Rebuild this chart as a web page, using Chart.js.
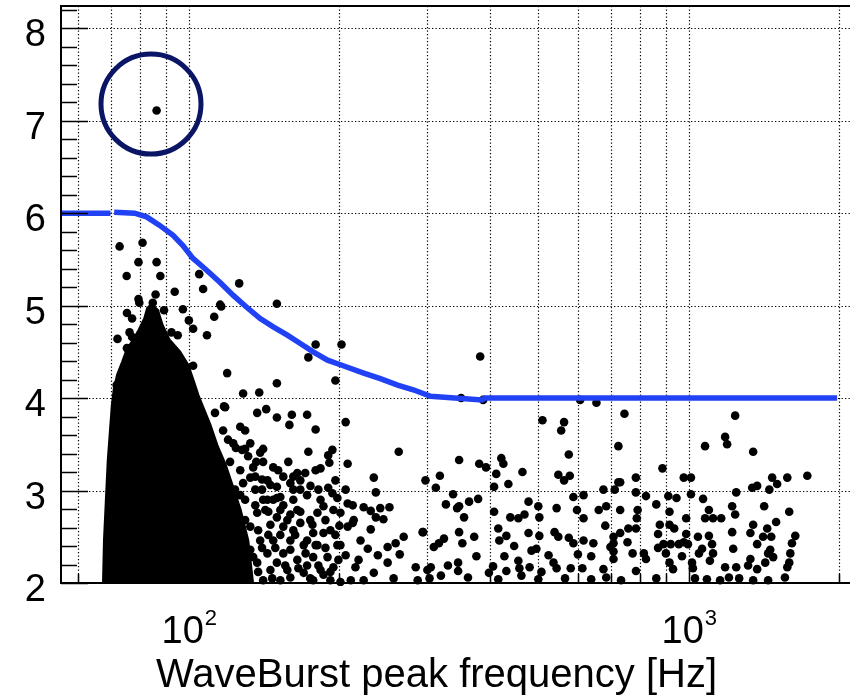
<!DOCTYPE html>
<html>
<head>
<meta charset="utf-8">
<script src="https://cdn.jsdelivr.net/npm/chart.js@4.4.0/dist/chart.umd.min.js"></script>
<style>
  html, body { margin: 0; padding: 0; overflow: hidden; background: #fff; }
  canvas { display: block; }
</style>
</head>
<body>
<canvas id="chart" width="880" height="696"></canvas>
<script>
// Axis ticks
const xTicks = [60, 70, 80, 90, 100, 200, 300, 400, 500, 600, 700, 800, 900, 1000, 2000];
const xLabels = { 100: '2', 1000: '3' }; // exponents of 10
const yTicks = [2, 3, 4, 5, 6, 7, 8];
const xTitle = 'WaveBurst peak frequency [Hz]';

// Upper edge of the dense core of events (freq Hz, rho)
const coreEdge = [
  [67.5, 2.0], [67.8, 2.46], [68.4, 2.90], [69, 3.33], [69.7, 3.65], [70.3, 3.92], [70.9, 4.09],
  [72, 4.25], [73.7, 4.39], [75.2, 4.52], [77.5, 4.63], [79.6, 4.74], [81.6, 4.86], [82.7, 4.97],
  [84.2, 5.01], [86.6, 4.95], [88.4, 4.79], [91.3, 4.63], [95.9, 4.5], [99.5, 4.36], [102, 4.19],
  [104.3, 4.03], [107.2, 3.87], [110.2, 3.71], [113.8, 3.49], [118.2, 3.28], [122, 3.06],
  [126.7, 2.79], [131.2, 2.46], [134.1, 2.0]
];

// Isolated events above the core and around the threshold
const eventsUpper = [
  [86.2, 7.11], [72.7, 5.64], [80.8, 5.68], [79.3, 5.47], [86.2, 5.47], [75.1, 5.32], [87.7, 5.32],
  [93.7, 5.15], [85.8, 5.12], [79.3, 5.07], [104.9, 5.34], [106.8, 5.18], [126.1, 5.24], [116.1, 4.99],
  [112.4, 4.88], [97.3, 4.96], [100, 4.84], [102, 4.75], [108.7, 4.68], [72, 4.64], [150, 5.02],
  [179.3, 4.58], [202, 4.58], [173.4, 4.44], [196.4, 4.19], [150, 4.16], [119.3, 4.27], [128.4, 4.05],
  [138.3, 4.06], [102, 4.35], [382.6, 4.45], [75.2, 4.92], [77, 4.86], [79.6, 5.03], [84.7, 5.03],
  [89.2, 4.95], [92.3, 4.71], [95, 4.68], [76.1, 4.71], [77, 4.66], [75.2, 4.54], [115.5, 5.01],
  [118.2, 3.90], [112.8, 3.84], [71.7, 4.14], [205.9, 3.74], [193.7, 3.44], [262.9, 3.42],
  [207.8, 3.29], [347.2, 3.33], [380.9, 3.29], [393, 3.25], [421.7, 3.35], [425.7, 3.29],
  [350.4, 4.00], [387.8, 3.98], [606.3, 3.98], [653.5, 3.95], [509.7, 3.76], [563, 3.74],
  [555.6, 3.65], [743.5, 3.83], [723, 3.48], [575.4, 3.39], [1077.7, 3.48], [1182, 3.58],
  [1193, 3.50], [1238, 3.81], [1345, 3.42], [885.8, 3.24]
];

// Events next to the core (120-300 Hz)
const eventsNear = [
  [234.4, 3.14], [236.6, 2.98], [207.8, 2.86], [223.7, 2.82], [231.1, 2.78], [241.5, 2.81],
  [251.9, 2.82], [236.6, 2.71], [245, 2.69], [231.1, 2.58], [200, 2.62], [212.7, 2.65], [269, 2.50],
  [293.5, 2.55], [259.2, 2.43], [249.8, 2.39], [264.1, 2.31], [238.8, 2.30], [228, 2.37], [249.8, 2.22],
  [284.3, 2.17], [300, 2.14], [256.8, 2.05], [234.4, 2.11], [215.4, 2.17], [210.8, 2.03], [223.7, 2.03],
  [286.9, 2.03], [190, 3.38], [173.4, 3.42], [183.4, 3.24], [191, 3.30], [142.8, 3.88], [137, 3.84],
  [150, 3.79], [160.7, 3.82], [172.4, 3.82], [158.9, 3.71], [179.3, 3.66], [140.8, 3.45], [140.8, 3.31],
  [129.6, 3.45], [190, 3.03], [198.2, 2.92], [175.1, 3.05], [170.9, 3.19], [161.8, 3.15], [159.6, 3.08],
  [135.8, 3.15], [140.1, 3.12], [185.9, 2.83], [126.7, 3.69], [129.6, 3.65], [117.1, 3.65], [122.7, 3.51],
  [127.8, 3.44], [117.6, 3.91], [207.8, 2.61], [201, 2.76], [213.7, 2.68], [193.7, 2.97], [172.4, 2.95],
  [161.8, 3.01], [150, 2.92], [143.6, 2.90], [126.7, 2.95],
  [147.5, 2.90], [152.4, 2.93], [161.8, 2.90], [164.8, 2.79], [150, 2.71], [154.5, 2.61], [167.1, 2.65],
  [174.9, 2.68], [180.8, 2.76], [185.9, 2.54], [172.4, 2.46], [159.6, 2.46], [147.5, 2.46], [143.6, 2.32],
  [154.5, 2.32], [164.8, 2.25], [177.3, 2.28], [189.4, 2.28], [194.6, 2.17], [183.4, 2.14], [169.7, 2.11],
  [157.4, 2.14], [145.6, 2.14], [140.8, 2.03], [152.4, 2.03], [177.3, 2.03], [191.9, 2.03], [201, 2.01],
  [140.8, 2.90], [137, 2.76], [132.7, 2.61], [138.9, 2.46], [134.5, 2.28], [130.8, 2.11], [132.7, 3.51],
  [138.9, 3.41], [147.5, 3.25], [154.5, 3.15], [164.8, 3.19], [150, 3.04], [143.6, 3.11], [134.5, 3.25],
  [128.4, 3.08], [157.4, 2.68], [169.7, 2.41], [180.8, 2.41], [161.8, 2.57], [145.6, 2.63], [177.3, 2.54],
  [150, 2.22], [159.6, 2.06], [172.4, 2.19], [185.9, 2.09], [137, 2.22], [142.2, 2.79], [154.5, 2.84],
  [167.1, 3.01], [183.4, 2.90], [194.6, 2.79], [198.2, 2.41], [191.9, 2.57],
  [119.8, 3.55], [124.2, 3.46], [131.4, 3.37], [136.4, 3.31], [120.9, 3.31], [126.7, 3.22], [132.7, 3.14],
  [140.1, 3.01], [145.6, 3.06], [123.7, 3.01], [129.6, 2.90], [135.8, 2.84], [144.2, 2.77], [152.4, 2.79],
  [159.6, 2.74], [167.1, 2.77], [176.7, 2.63], [187.6, 2.68], [196.4, 2.52], [129.6, 2.68], [137.6, 2.57],
  [144.2, 2.52], [152.4, 2.52], [163.2, 2.52], [179.3, 2.41], [187.6, 2.38], [199.1, 2.25], [132.7, 2.36],
  [140.1, 2.38], [148.9, 2.38], [159.6, 2.36], [171.2, 2.32], [181.6, 2.19], [191.9, 2.12], [129.6, 2.19],
  [137.6, 2.12], [146.8, 2.05], [155.9, 2.19], [165.6, 2.16], [174.9, 2.05], [126.7, 2.46], [135.8, 3.01],
  [150.9, 3.22], [158.1, 3.31], [167.1, 3.11], [179.3, 3.22], [181.6, 3.01], [196.4, 3.11], [205.9, 3.01],
  [212.7, 2.84], [220.5, 2.46], [218.5, 2.25], [205.9, 2.30], [201, 2.41]
];

// Events 300-700 Hz
const eventsMid = [
  [464.8, 3.20], [412, 3.18], [435.6, 3.07], [548.3, 3.17], [563, 3.11], [578, 3.16], [297.4, 3.11],
  [317.8, 3.16], [311.9, 3.03], [337.7, 2.96], [326.7, 2.85], [344, 2.81], [347.2, 2.83], [363.5, 2.88],
  [379, 2.91], [355.2, 2.71], [407.9, 3.04], [407.9, 2.77], [439.5, 2.71], [456.1, 2.70], [469.2, 2.74],
  [478, 2.88], [500, 2.83], [502.4, 2.71], [544, 2.81], [587.7, 2.93], [615.8, 2.95], [597.5, 2.79],
  [615.8, 2.70], [660.4, 2.79], [683.6, 2.83], [674.9, 3.01], [723, 3.09], [294.1, 2.55], [309, 2.39],
  [316.3, 2.43], [323.8, 2.48], [347.2, 2.55], [352.4, 2.43], [372.2, 2.50], [415.8, 2.59], [417.8, 2.46],
  [431.6, 2.51], [447.4, 2.40], [478, 2.54], [502.4, 2.51], [538.9, 2.55], [548.3, 2.50], [575.4, 2.49],
  [587.7, 2.43], [615.8, 2.46], [644.3, 2.43], [680.7, 2.62], [707, 2.50], [376, 2.29], [427.7, 2.29],
  [456.1, 2.24], [484.6, 2.35], [495.6, 2.37], [524.2, 2.30], [536.3, 2.22], [544, 2.16], [600, 2.31],
  [637.9, 2.29], [304.7, 2.17], [329.8, 2.19], [345.6, 2.22], [345.6, 2.13], [406, 2.18], [431.6, 2.13],
  [458.3, 2.16], [480.4, 2.17], [507.3, 2.12], [580.5, 2.16], [612.6, 2.16], [674.9, 2.15], [303, 2.05],
  [319.3, 2.08], [361.7, 2.06], [398.3, 2.11], [415.8, 2.04], [462.6, 2.08], [500, 2.04], [565.5, 2.05],
  [637.9, 2.04], [683.6, 2.06]
];

// Events above 700 Hz
const eventsHigh = [
  [783.6, 3.14], [729, 3.09], [977, 3.14], [1010, 3.14], [1468, 3.14], [1502, 3.07], [1574, 3.14],
  [1726, 3.16], [711, 3.01], [783.6, 2.98], [821, 2.94], [910, 2.94], [945, 2.92], [1010, 2.96],
  [1244, 2.98], [1339, 3.03], [1370, 3.05], [1449, 3.01], [1068, 2.91], [861, 2.85], [729, 2.79],
  [790, 2.79], [915, 2.77], [1097, 2.79], [1221, 2.83], [1415, 2.83], [1588, 2.77], [787, 2.70],
  [784, 2.59], [875, 2.63], [915, 2.63], [935, 2.59], [988, 2.70], [1078, 2.70], [1118, 2.70],
  [1161, 2.70], [1238, 2.74], [1495, 2.66], [1345, 2.63], [1435, 2.59], [729, 2.54], [757, 2.59],
  [868, 2.53], [988, 2.53], [1221, 2.55], [1328, 2.54], [1633, 2.51], [754, 2.44], [1043, 2.50],
  [1097, 2.51], [1408, 2.50], [1462, 2.50], [707, 2.43], [868, 2.38], [890, 2.42], [920, 2.42],
  [955, 2.42], [977, 2.44], [996, 2.42], [1063, 2.37], [1113, 2.42], [1370, 2.42], [1455, 2.36],
  [1608, 2.43], [772, 2.32], [813, 2.32], [900, 2.32], [969, 2.29], [1048, 2.32], [1118, 2.32],
  [1227, 2.37], [1441, 2.32], [1475, 2.28], [1596, 2.32], [707, 2.26], [821, 2.26], [915, 2.22],
  [1102, 2.24], [1328, 2.26], [1422, 2.22], [1588, 2.22], [1015, 2.22], [784, 2.13], [930, 2.15],
  [1019, 2.16], [1182, 2.17], [1244, 2.17], [1314, 2.19], [1370, 2.15], [1574, 2.17], [732, 2.03],
  [861, 2.05], [1029, 2.05], [1087, 2.04], [1155, 2.03], [1203, 2.06], [1261, 2.05], [1345, 2.03],
  [1441, 2.03], [1557, 2.06], [697, 2.39], [707, 2.34]
];

// Detection threshold (null = gap in the curve)
const threshold = [
  [55.5, 6.0], [69.7, 6.0], [70.3, null], [70.9, 6.01], [77.9, 6.0], [82.3, 5.96], [87.3, 5.87],
  [93, 5.76], [97.3, 5.65], [101.9, 5.51], [108.7, 5.38], [115.5, 5.25], [122.7, 5.11], [130.7, 4.98],
  [138.9, 4.86], [147.5, 4.77], [157.4, 4.68], [167.1, 4.59], [177.3, 4.50], [189.4, 4.41], [201, 4.36],
  [223.7, 4.27], [241.5, 4.21], [261.6, 4.14], [281, 4.09], [304.5, 4.02], [386, 3.98], [390, 4.0],
  [1980, 4.0]
];

// Highlighted outlier
const outlier = [84, 7.18];

const toXY = arr => arr.map(p => ({ x: p[0], y: p[1] }));
const FONT = '"Liberation Sans", Arial, Helvetica, sans-serif';

// Grid, frame, inward ticks and labels
const axesPlugin = {
  id: 'rootAxes',
  beforeDatasetsDraw(chart) {
    const { ctx, chartArea: a, scales: { x, y } } = chart;
    ctx.save();
    ctx.strokeStyle = '#000';
    ctx.lineWidth = 1.2;
    ctx.setLineDash([1.3, 2.2]);
    ctx.beginPath();
    xTicks.forEach(v => {
      const px = Math.round(x.getPixelForValue(v)) + 0.5;
      ctx.moveTo(px, a.top);
      ctx.lineTo(px, a.bottom);
    });
    yTicks.forEach(v => {
      if (v === 2) return;
      const py = Math.round(y.getPixelForValue(v)) + 0.5;
      ctx.moveTo(a.left, py);
      ctx.lineTo(a.right, py);
    });
    ctx.stroke();
    ctx.restore();
  },
  afterDatasetsDraw(chart) {
    const { ctx, chartArea: a, scales: { x, y } } = chart;
    ctx.save();
    ctx.setLineDash([]);
    ctx.strokeStyle = '#000';

    // frame
    ctx.lineWidth = 2;
    ctx.strokeRect(a.left, a.top, a.right - a.left, a.bottom - a.top);

    // y ticks (major + minor, pointing inward)
    ctx.lineWidth = 1.5;
    ctx.beginPath();
    for (let i = 0; i <= 31; i++) {
      const v = 2 + i * 0.2;
      if (v > y.max) break;
      const py = Math.round(y.getPixelForValue(v)) + 0.5;
      const len = i % 5 === 0 ? 27 : 16;
      ctx.moveTo(a.left, py);
      ctx.lineTo(a.left + len, py);
    }
    // x ticks
    xTicks.forEach(v => {
      const px = Math.round(x.getPixelForValue(v)) + 0.5;
      const len = xLabels[v] ? 18 : 9;
      ctx.moveTo(px, a.bottom);
      ctx.lineTo(px, a.bottom - len);
    });
    ctx.stroke();

    // y labels
    ctx.fillStyle = '#000';
    ctx.font = '38px ' + FONT;
    ctx.textAlign = 'right';
    ctx.textBaseline = 'alphabetic';
    yTicks.forEach(v => {
      ctx.fillText(String(v), a.left - 15, y.getPixelForValue(v) + 18);
    });

    // x labels 10^n
    Object.keys(xLabels).forEach(k => {
      const px = x.getPixelForValue(Number(k));
      ctx.font = '38px ' + FONT;
      const wBase = ctx.measureText('10').width;
      ctx.font = '22px ' + FONT;
      const wExp = ctx.measureText(xLabels[k]).width;
      const left = px - (wBase + wExp) / 2;
      ctx.textAlign = 'left';
      ctx.font = '38px ' + FONT;
      ctx.fillText('10', left, a.bottom + 60);
      ctx.font = '22px ' + FONT;
      ctx.fillText(xLabels[k], left + wBase + 1, a.bottom + 42);
    });

    // axis title
    ctx.font = '40px ' + FONT;
    ctx.textAlign = 'center';
    ctx.fillText(xTitle, a.left + 0.47 * (a.right - a.left), a.bottom + 104);
    ctx.restore();
  }
};

const ctx = document.getElementById('chart').getContext('2d');
const chart = new Chart(ctx, {
  type: 'scatter',
  data: {
    datasets: [
      {
        label: 'mark',
        data: toXY([outlier]),
        pointStyle: 'circle',
        pointRadius: 50,
        backgroundColor: 'rgba(0,0,0,0)',
        borderColor: '#0b1566',
        borderWidth: 5,
        order: 0
      },
      {
        label: 'threshold',
        data: toXY(threshold),
        showLine: true,
        spanGaps: false,
        borderColor: '#2142f4',
        borderWidth: 5.5,
        pointRadius: 0,
        order: 1
      },
      {
        label: 'events',
        data: toXY(eventsUpper.concat(eventsNear, eventsMid, eventsHigh)),
        pointStyle: 'circle',
        pointRadius: 4.3,
        backgroundColor: '#000',
        borderWidth: 0,
        clip: { left: 0, top: 0, right: 0, bottom: 3 },
        order: 2
      },
      {
        label: 'core',
        data: toXY(coreEdge),
        showLine: true,
        fill: 'start',
        backgroundColor: '#000',
        borderColor: '#000',
        borderWidth: 3,
        pointRadius: 0,
        order: 3
      }
    ]
  },
  options: {
    responsive: false,
    animation: false,
    devicePixelRatio: 1,
    layout: { autoPadding: false, padding: { left: 61, top: 6, right: 20, bottom: 113 } },
    plugins: { legend: { display: false }, tooltip: { enabled: false } },
    scales: {
      x: {
        type: 'logarithmic',
        min: 55.5,
        max: 2200,
        ticks: { display: false },
        grid: { display: false, drawTicks: false },
        border: { display: false },
        afterBuildTicks: s => { s.ticks = xTicks.map(v => ({ value: v })); }
      },
      y: {
        type: 'linear',
        min: 2,
        max: 8.24,
        ticks: { display: false, stepSize: 1 },
        grid: { display: false, drawTicks: false },
        border: { display: false }
      }
    }
  },
  plugins: [axesPlugin]
});
</script>
</body>
</html>
